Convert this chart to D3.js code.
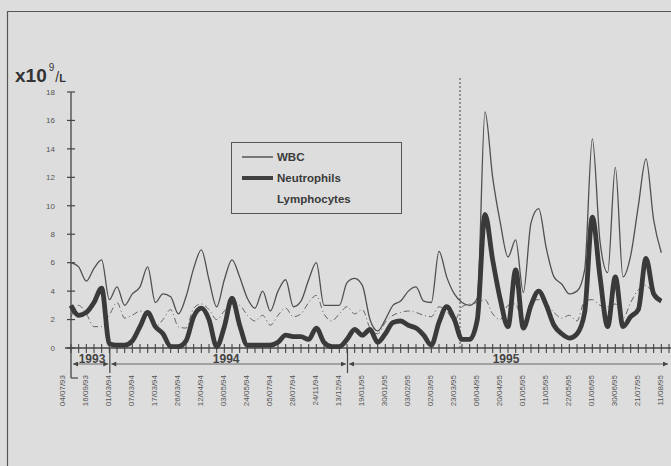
<!DOCTYPE html>
<html>
<head>
<meta charset="utf-8">
<script src="https://cdn.jsdelivr.net/npm/d3@7"></script>
<style>
  html, body { margin: 0; padding: 0; background: #dddddd; }
  svg { display: block; font-family: "Liberation Sans", Arial, sans-serif; }
</style>
</head>
<body>
<div id="chart"></div>
<script>
// sample dates shown under the axis (one every third sample)
var dateLabels = ["04/07/93", "16/09/93", "01/03/94", "07/03/94", "17/03/94", "26/03/94",
  "12/04/94", "03/05/94", "24/05/94", "05/07/94", "28/07/94", "24/11/94", "13/12/94",
  "19/01/95", "30/01/95", "03/02/95", "02/03/95", "23/03/95", "06/04/95", "20/04/95",
  "01/05/95", "11/05/95", "22/05/95", "01/06/95", "30/06/95", "21/07/95", "11/08/95"];

var yTicks = [0, 2, 4, 6, 8, 10, 12, 14, 16, 18];

// year spans in sample index units
var years = [
  { label: "1993", from: 0, to: 5 },
  { label: "1994", from: 5, to: 36 },
  { label: "1995", from: 36, to: 78 }
];

// x10^9/L, one value per sample
var wbc = [6.0, 5.7, 4.7, 5.6, 6.2, 3.4, 4.3, 3.0, 3.8, 4.3,
  5.7, 3.2, 3.8, 3.6, 2.4, 3.6, 5.6, 6.9, 4.8, 2.9,
  4.8, 6.2, 5.0, 3.5, 2.8, 4.0, 2.6, 4.0, 4.8, 2.9,
  3.3, 4.8, 6.0, 3.0, 3.0, 3.0, 4.6, 4.9, 4.4, 2.0,
  1.2, 2.0, 3.0, 3.3, 4.0, 4.3, 3.3, 3.2, 6.8, 5.0,
  3.8, 3.2, 3.0, 3.5, 16.6, 12.0, 8.8, 6.4, 7.6, 3.9,
  8.8, 9.8, 7.0, 5.0, 4.5, 3.8, 4.0, 5.5, 14.7, 7.5,
  5.3, 12.7, 5.0, 6.5, 10.0, 13.3, 9.0, 6.7];

var neutrophils = [3.0, 2.3, 2.5, 3.2, 4.2, 0.3, 0.2, 0.2, 0.5, 1.5,
  2.5, 1.5, 1.0, 0.1, 0.1, 0.5, 2.2, 2.8, 2.0, 0.1,
  1.5, 3.5, 1.6, 0.2, 0.2, 0.2, 0.2, 0.4, 0.9, 0.8,
  0.8, 0.6, 1.4, 0.4, 0.1, 0.1, 0.6, 1.3, 0.9, 1.3,
  0.4, 1.0, 1.8, 1.9, 1.6, 1.4, 0.9, 0.2, 1.8, 2.9,
  2.0, 0.6, 0.6, 2.0, 9.4, 6.2, 3.4, 1.5, 5.5, 1.4,
  3.0, 4.0, 3.0, 1.6, 1.0, 0.7, 1.0, 2.5, 9.2, 5.0,
  1.5, 5.0, 1.5, 2.2, 2.7, 6.3, 3.8, 3.3];

var lymphocytes = [2.2, 3.0, 2.4, 1.5, 1.5, 2.3, 3.2, 2.1, 2.3, 2.6,
  2.4, 1.5, 2.0, 2.7, 1.5, 1.4, 2.8, 3.1, 2.7, 2.0,
  2.6, 3.1, 3.0, 2.3, 1.9, 2.3, 1.6, 2.3, 2.8, 2.2,
  2.4, 3.2, 3.7, 2.4, 1.9, 2.4, 2.9, 2.4, 2.7, 1.4,
  1.0, 1.8, 2.3, 2.5, 2.6, 2.5, 2.3, 2.2, 2.9, 2.6,
  1.9, 2.9, 3.1, 3.2, 3.4, 2.4, 2.0, 3.0, 3.1, 1.5,
  3.3, 3.4, 3.1, 2.5, 2.1, 2.3, 1.9, 3.3, 3.4, 3.0,
  2.9, 3.1, 2.1, 3.2, 4.1, 4.4, 3.8, 3.3];

var width = 671, height = 466;
var ink = "#454545";

var svg = d3.select("#chart").append("svg")
  .attr("width", width)
  .attr("height", height);

// scanned page frame
svg.append("path")
  .attr("d", "M7.5,466 L7.5,11.5 L671,11.5")
  .attr("fill", "none")
  .attr("stroke", "#555")
  .attr("stroke-width", 1.2);

var x = d3.scaleLinear().domain([0, 78]).range([71, 669]);
var y = d3.scaleLinear().domain([0, 18]).range([348, 92]);

// y axis
svg.append("line")
  .attr("x1", 71).attr("x2", 71)
  .attr("y1", y(18)).attr("y2", 378)
  .attr("stroke", ink).attr("stroke-width", 1.3);
svg.append("line")
  .attr("x1", 71).attr("x2", 78)
  .attr("y1", 378).attr("y2", 378)
  .attr("stroke", ink).attr("stroke-width", 1.2);

var yt = svg.append("g").selectAll("g").data(yTicks).enter().append("g")
  .attr("transform", function(d) { return "translate(0," + y(d) + ")"; });
yt.append("line")
  .attr("x1", 67).attr("x2", 75)
  .attr("stroke", ink).attr("stroke-width", 1.2);
yt.append("text")
  .attr("x", 55).attr("dy", "0.35em")
  .attr("text-anchor", "end")
  .attr("font-size", 8)
  .attr("fill", "#555")
  .text(function(d) { return d; });

// unit label
var unit = svg.append("text").attr("x", 15).attr("y", 82).attr("fill", "#333");
unit.append("tspan").attr("font-size", 19).attr("font-weight", "bold").text("x10");
unit.append("tspan").attr("font-size", 10).attr("dx", 2).attr("dy", -11).text("9");
unit.append("tspan").attr("font-size", 14).attr("dx", 1).attr("dy", 11).text("/");
unit.append("tspan").attr("font-size", 11).attr("font-weight", "bold").text("L");

// x axis
svg.append("line")
  .attr("x1", 65).attr("x2", 671)
  .attr("y1", y(0)).attr("y2", y(0))
  .attr("stroke", ink).attr("stroke-width", 1.3);
svg.append("g").selectAll("line").data(d3.range(0, 79)).enter().append("line")
  .attr("x1", function(d) { return x(d); })
  .attr("x2", function(d) { return x(d); })
  .attr("y1", y(0) - 4).attr("y2", y(0) + 5)
  .attr("stroke", ink).attr("stroke-width", 1.1);

svg.append("g").selectAll("text").data(dateLabels).enter().append("text")
  .attr("transform", function(d, i) { return "translate(" + (x(i * 3) - 6) + ",375) rotate(-90)"; })
  .attr("text-anchor", "end")
  .attr("font-size", 8)
  .attr("fill", "#555")
  .text(function(d) { return d; });

// year arrows
svg.append("defs").append("marker")
  .attr("id", "head")
  .attr("viewBox", "0 0 10 10")
  .attr("refX", 10).attr("refY", 5)
  .attr("markerWidth", 9).attr("markerHeight", 5)
  .attr("markerUnits", "userSpaceOnUse")
  .attr("orient", "auto-start-reverse")
  .append("path").attr("d", "M0,0 L10,5 L0,10 Z").attr("fill", ink);

years.forEach(function(yr, k) {
  if (k > 0) {
    svg.append("line")
      .attr("x1", x(yr.from) + 0.5).attr("x2", x(yr.from) + 0.5)
      .attr("y1", y(0)).attr("y2", 373)
      .attr("stroke", ink).attr("stroke-width", 1.2);
  }
  svg.append("line")
    .attr("x1", x(yr.from) + 2).attr("x2", x(yr.to) - 1)
    .attr("y1", 364).attr("y2", 364)
    .attr("stroke", "#666").attr("stroke-width", 1)
    .attr("marker-start", "url(#head)")
    .attr("marker-end", "url(#head)");
  svg.append("text")
    .attr("x", k === 0 ? x(1) : x((yr.from + yr.to) / 2 - 2))
    .attr("y", 363)
    .attr("font-size", 12)
    .attr("font-weight", "bold")
    .attr("fill", "#444")
    .text(yr.label);
});

// reference line
svg.append("line")
  .attr("x1", 460).attr("x2", 460)
  .attr("y1", 78).attr("y2", y(0))
  .attr("stroke", "#444").attr("stroke-width", 1)
  .attr("stroke-dasharray", "2,2");

var line = d3.line()
  .x(function(d, i) { return x(i); })
  .y(function(d) { return y(d); })
  .curve(d3.curveMonotoneX);

svg.append("path").datum(lymphocytes)
  .attr("d", line)
  .attr("fill", "none")
  .attr("stroke", "#555")
  .attr("stroke-width", 0.9)
  .attr("stroke-dasharray", "6,3,1,3");

svg.append("path").datum(wbc)
  .attr("d", line)
  .attr("fill", "none")
  .attr("stroke", "#505050")
  .attr("stroke-width", 1.3);

svg.append("path").datum(neutrophils)
  .attr("d", line)
  .attr("fill", "none")
  .attr("stroke", "#3a3a3a")
  .attr("stroke-width", 4.8)
  .attr("stroke-linejoin", "round");

// legend
var lg = svg.append("g");
lg.append("rect")
  .attr("x", 231.5).attr("y", 142.5)
  .attr("width", 170).attr("height", 71)
  .attr("fill", "none").attr("stroke", "#555").attr("stroke-width", 1);
var legendItems = [
  { name: "WBC", w: 1.3 },
  { name: "Neutrophils", w: 4 },
  { name: "Lymphocytes", w: 0 }
];
legendItems.forEach(function(it, i) {
  var ly = 157 + i * 21;
  if (it.w > 0) {
    lg.append("line")
      .attr("x1", 242).attr("x2", 273)
      .attr("y1", ly).attr("y2", ly)
      .attr("stroke", "#404040").attr("stroke-width", it.w);
  }
  lg.append("text")
    .attr("x", 277).attr("y", ly).attr("dy", "0.36em")
    .attr("font-size", 11.5)
    .attr("font-weight", "bold")
    .attr("fill", "#3a3a3a")
    .text(it.name);
});
</script>
</body>
</html>
